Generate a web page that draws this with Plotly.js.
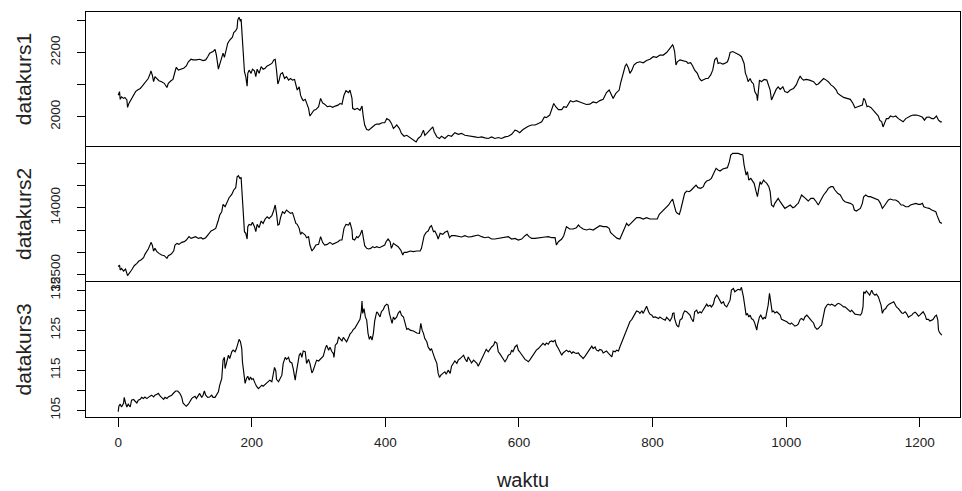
<!DOCTYPE html>
<html>
<head>
<meta charset="utf-8">
<script src="https://cdn.plot.ly/plotly-2.35.2.min.js"></script>
<style>html,body{margin:0;padding:0;background:#fff}#chart{width:962px;height:491px}</style>
</head>
<body>
<div id="chart"></div>
<script>
// datakurs1 (time index, value)
const waktu1 = [0,2,3,5,8,10,13,14,16,19,21,24,26,29,33,36,39,43,45,48,49,51,53,55,58,61,65,69,73,75,79,82,85,87,90,94,98,102,105,109,112,117,122,127,131,134,137,142,145,147,150,151,154,157,159,161,164,167,171,173,176,178,179,181,183,184,186,187,189,191,193,194,196,199,201,204,206,208,211,214,217,220,223,226,230,233,235,237,239,241,243,246,249,252,255,258,261,264,266,268,271,273,275,277,280,282,285,287,290,293,296,300,303,306,309,313,317,321,325,329,332,335,338,341,345,347,350,351,354,358,362,365,367,369,372,375,378,381,384,387,391,395,399,
402,406,409,412,417,421,424,428,432,437,442,446,449,453,457,459,462,467,471,473,477,481,484,489,494,499,504,509,514,519,524,529,534,539,544,549,554,559,564,569,574,579,584,589,594,597,601,606,611,614,619,624,629,634,638,641,646,650,652,655,659,664,667,671,674,677,681,686,691,696,701,706,711,716,721,726,731,735,739,741,745,750,752,755,759,761,764,766,769,772,776,781,786,791,796,801,806,811,816,821,826,830,
831,833,835,837,841,846,851,853,857,860,863,867,870,873,876,880,883,887,890,893,896,898,901,905,908,912,914,916,920,925,930,933,937,939,941,943,946,948,951,953,956,957,958,960,963,967,971,973,976,978,981,985,988,991,995,998,1002,1006,1011,1015,1018,1021,1023,1026,1030,1035,1041,1045,1048,1052,1056,1060,1063,1067,1071,1075,1077,1081,1086,1091,1096,1100,1103,1107,1111,1114,1116,1118,1121,1123,1127,1130,1134,1138,1140,1143,1145,1148,1150,1153,1156,1160,1164,1168,1171,1175,1179,1183,1186,1190,1195,1200,1204,1207,1210,1214,1218,1221,1225,1228,1231,1233];
const datakurs1 = [2067,2078,2054,2062,2057,2060,2052,2029,2041,2052,2060,2067,2078,2083,2088,2095,2102,2112,2119,2135,2143,2130,2109,2125,2119,2112,2109,2104,2091,2104,2112,2116,2140,2154,2145,2148,2151,2158,2171,2179,2177,2177,2179,2175,2177,2187,2198,2203,2210,2192,2148,2156,2177,2198,2185,2200,2229,2239,2248,2262,2268,2276,2302,2310,2297,2304,2234,2177,2140,2125,2095,2135,2145,2135,2148,2143,2125,2148,2135,2156,2148,2151,2158,2161,2166,2177,2179,2145,2102,2114,2133,2137,2119,2125,2114,2119,2114,2116,2102,2083,2093,2067,2057,2050,2054,2043,2026,2002,2012,2020,2022,2031,2057,2043,2039,2031,2033,2029,2033,2036,2041,2039,2067,2081,2075,2083,2057,2026,2022,2026,2020,2033,1999,1974,1960,1958,1963,1970,1974,1977,1977,1981,1981,
1994,1989,1979,1963,1974,1963,1948,1939,1942,1935,1927,1921,1932,1939,1958,1942,1948,1960,1968,1953,1937,1932,1939,1932,1942,1939,1950,1945,1948,1942,1941,1939,1937,1935,1937,1934,1932,1937,1932,1935,1932,1937,1939,1945,1958,1956,1950,1960,1968,1970,1974,1974,1979,1984,1999,1997,2005,2031,2041,2031,2022,2022,2031,2029,2041,2050,2046,2050,2046,2041,2038,2039,2046,2043,2050,2054,2075,2083,2062,2057,2073,2083,2104,2130,2158,2164,2151,2135,2145,2161,2168,2171,2168,2175,2179,2187,2185,2192,2192,2200,2213,2224,
2220,2203,2161,2171,2177,2175,2171,2166,2168,2158,2145,2135,2119,2112,2116,2119,2119,2130,2145,2177,2184,2166,2168,2164,2166,2171,2182,2200,2203,2198,2192,2187,2166,2135,2125,2109,2119,2109,2102,2078,2067,2050,2083,2114,2109,2116,2114,2104,2083,2052,2067,2085,2093,2085,2093,2078,2075,2083,2088,2099,2114,2127,2119,2114,2116,2114,2109,2099,2102,2109,2119,2114,2109,2099,2093,2083,2073,2067,2060,2057,2054,2041,2028,2031,2033,2036,2057,2052,2031,2033,2028,2020,2010,2002,1989,1984,1968,1981,1994,1994,2002,1999,2002,1994,1989,1984,1994,1999,2002,2005,2005,2002,1998,1989,1998,1999,1994,1994,2002,1989,1984,1984];

// datakurs2
const waktu2 = [0,2,3,5,8,11,14,16,19,21,24,28,31,34,38,40,43,45,48,49,51,53,55,58,61,65,69,73,75,79,83,85,88,91,95,99,102,106,109,112,116,120,124,127,131,135,139,142,146,150,152,155,157,160,162,166,170,173,176,178,180,182,184,186,187,189,191,193,194,196,199,201,204,206,208,211,214,217,220,223,226,230,233,235,237,239,241,243,246,249,252,255,258,261,264,266,268,271,273,275,277,280,282,285,287,290,293,296,300,303,306,309,313,317,321,325,329,332,335,338,341,345,347,350,351,354,357,359,362,365,367,369,372,375,378,381,384,387,391,395,399,
401,404,407,409,412,416,419,423,426,428,432,437,442,447,452,454,456,458,461,464,467,469,472,474,477,479,482,486,489,493,496,499,504,509,514,519,524,529,534,539,544,549,554,559,564,569,574,579,584,589,594,599,604,609,612,615,619,624,629,634,639,644,649,654,656,659,664,667,669,671,676,681,686,689,691,696,701,706,711,716,721,726,731,735,737,740,744,747,751,754,756,759,761,764,766,769,771,774,776,781,786,791,796,801,807,810,814,817,820,824,827,830,
832,835,837,840,842,845,848,851,855,858,862,865,868,872,876,878,881,885,888,892,895,898,901,905,908,912,915,917,920,923,928,932,935,937,940,942,944,947,950,952,955,957,959,961,963,966,968,971,974,976,978,981,983,986,988,991,995,998,1002,1006,1010,1013,1016,1018,1021,1023,1026,1030,1033,1037,1041,1045,1048,1052,1056,1060,1063,1067,1070,1073,1077,1081,1085,1088,1092,1096,1100,1102,1105,1108,1111,1114,1116,1119,1123,1126,1130,1134,1138,1141,1144,1146,1149,1153,1156,1160,1164,1168,1172,1175,1179,1183,1186,1190,1194,1198,1201,1204,1206,1210,1214,1218,1221,1224,1226,1228,1230,1233];
const datakurs2 = [12680,12717,12605,12643,12583,12628,12478,12531,12583,12628,12702,12755,12807,12829,12882,12956,13016,13076,13180,13225,13165,13031,13090,13016,12978,12941,12926,12867,12926,12956,13031,13165,13202,13180,13225,13240,13277,13352,13314,13329,13352,13314,13329,13299,13329,13404,13479,13501,13538,13725,13837,13911,14076,14023,14098,14225,14299,14397,14449,14695,14717,14658,14673,14210,13762,13464,13426,13299,13576,13628,13613,13673,13576,13464,13628,13553,13702,13650,13747,13799,13762,13822,13949,14061,13874,13613,13628,13777,13911,13874,13949,13911,13874,13889,13762,13650,13628,13538,13404,13449,13426,13389,13329,13352,13165,13031,13090,13165,13180,13352,13225,13165,13180,13225,13180,13202,13240,13277,13277,13538,13628,13613,13673,13501,13299,13277,13352,13329,13389,13501,13277,13150,13090,13076,13090,13128,13105,13128,13105,13128,13165,
13240,13299,13240,13090,13202,13165,13128,13053,12941,13001,13001,13031,13016,13031,13031,13090,13240,13374,13449,13479,13576,13598,13464,13479,13389,13299,13426,13404,13449,13479,13329,13374,13374,13352,13344,13374,13344,13352,13374,13389,13352,13329,13344,13299,13299,13314,13329,13344,13352,13299,13314,13277,13299,13374,13404,13352,13314,13314,13329,13329,13344,13352,13329,13329,13165,13240,13299,13374,13479,13576,13523,13523,13553,13613,13576,13523,13501,13523,13501,13553,13598,13576,13576,13538,13449,13404,13352,13314,13299,13389,13479,13576,13650,13598,13628,13673,13702,13747,13777,13777,13747,13777,13747,13747,13747,13852,13911,13949,14001,14061,14135,14195,
14076,13911,13874,13852,13949,14135,14322,14374,14359,14397,14449,14508,14449,14434,14471,14546,14598,14620,14658,14770,14882,14844,14822,14867,14882,14897,15031,15180,15217,15217,15217,15195,15180,14956,14732,14807,14620,14658,14583,14546,14359,14247,14434,14583,14523,14620,14583,14546,14471,14359,14061,14023,14098,14173,14210,14135,14061,13986,14023,14061,14001,14023,14076,14098,14210,14285,14247,14195,14150,14210,14210,14135,14061,14173,14285,14359,14434,14471,14471,14397,14322,14285,14173,14135,14120,14098,14061,13949,13926,13949,13986,14098,14247,14285,14247,14247,14225,14210,14173,14098,13986,14023,14098,14173,14195,14173,14173,14135,14061,14061,14023,14023,14061,14076,14098,14076,14076,14098,14023,14001,13986,13949,13926,13911,13822,13725,13673,13650];

// datakurs3
const waktu3 = [0,1,3,5,8,9,11,13,15,18,20,23,25,28,30,33,35,38,40,43,45,48,50,53,55,58,60,63,65,68,70,73,75,78,80,83,86,89,92,95,97,100,102,105,107,110,112,115,117,120,122,125,127,129,131,134,137,140,142,145,147,150,152,155,157,159,160,162,165,167,170,172,175,177,179,181,183,185,186,188,190,192,194,196,198,200,202,205,207,210,212,215,217,220,222,225,227,230,232,234,236,237,240,242,245,247,250,252,255,257,260,262,265,266,269,271,273,275,277,280,282,285,287,290,292,295,297,300,302,305,307,310,312,315,317,320,322,323,325,328,330,332,335,337,340,342,345,347,350,352,354,357,359,362,364,365,366,368,370,372,374,376,378,380,382,384,387,389,392,394,397,399,
402,404,406,408,410,412,414,417,419,422,424,427,429,432,434,437,442,447,451,453,455,457,459,462,464,467,469,472,474,477,479,481,483,486,489,491,494,497,499,502,504,507,509,512,514,517,519,522,524,527,529,532,534,537,539,541,544,547,549,551,554,557,559,562,564,567,569,571,574,577,579,582,584,587,589,591,594,597,599,601,604,606,609,611,614,616,619,621,624,626,629,631,634,636,639,641,644,646,649,651,654,656,659,661,664,666,669,671,674,676,679,681,684,686,689,691,694,696,699,701,704,706,709,711,714,716,719,721,724,726,729,731,734,736,739,741,744,746,749,751,754,756,759,761,764,766,769,771,774,776,779,781,784,786,789,791,794,796,799,801,804,806,809,811,814,816,819,821,824,826,829,
830,832,833,836,839,841,844,846,848,851,853,856,858,861,863,866,868,871,873,876,878,881,883,886,888,891,893,896,898,901,903,906,908,911,913,916,918,921,923,926,928,931,933,936,938,940,942,944,946,948,951,953,956,957,960,962,965,967,969,971,973,975,977,979,981,983,986,988,991,993,996,998,1001,1003,1006,1008,1011,1013,1016,1018,1021,1023,1026,1028,1031,1033,1036,1038,1041,1043,1046,1048,1051,1053,1056,1058,1061,1063,1066,1068,1071,1073,1076,1078,1081,1083,1086,1088,1091,1093,1096,1098,1101,1103,1106,1108,1111,1113,1115,1116,1118,1120,1123,1125,1128,1130,1133,1135,1138,1140,1142,1144,1146,1149,1151,1154,1156,1159,1161,1163,1165,1168,1170,1173,1175,1178,1180,1183,1185,1188,1190,1193,1195,1198,1200,1203,1205,1208,1210,1213,1215,1218,1220,1223,1225,1227,1228,1230,1233];
const datakurs3 = [104.6,106.0,106.5,105.8,106.7,108.2,106.8,105.8,106.5,105.8,107.5,107.7,107.3,106.8,107.5,107.7,108.2,107.9,108.3,107.9,108.2,108.5,108.75,108.3,108.75,109.0,109.2,108.5,108.2,107.7,108.2,107.9,108.3,108.5,108.75,109.3,109.8,109.8,109.3,108.3,106.8,106.25,106.0,106.5,107.1,107.9,108.2,108.5,107.9,108.75,109.2,108.2,108.75,109.8,108.75,108.2,108.3,108.75,108.2,108.2,108.75,109.6,111.25,112.9,117.5,118.2,115.4,116.7,118.75,117.9,119.6,120.0,119.6,120.4,121.7,122.7,122.1,120.4,117.1,113.75,111.7,112.9,113.5,112.5,113.3,112.7,112.9,111.7,111.0,110.4,110.8,111.25,111.0,111.5,111.7,112.1,112.5,112.1,113.75,115.7,114.8,112.7,112.1,112.9,113.75,116.7,118.2,117.7,118.2,117.1,116.8,115.4,112.5,113.75,117.1,118.75,119.3,118.2,119.8,119.6,116.7,117.7,116.7,114.3,115.0,116.25,117.5,117.3,117.7,118.3,118.5,120.4,121.25,120.0,120.7,119.6,119.2,118.2,121.25,121.8,123.3,122.9,122.3,123.2,122.7,122.1,123.2,124.0,124.6,125.2,125.4,126.25,126.8,127.7,129.8,132.3,129.2,130.4,128.3,127.5,124.2,122.7,123.5,122.5,124.2,127.3,129.6,129.2,128.3,129.6,130.2,131.0,
131.5,131.25,129.2,127.9,126.7,128.3,127.7,128.3,129.2,129.8,128.75,128.3,126.7,125.2,125.4,125.0,124.8,124.3,124.2,126.7,125.0,124.2,122.9,122.1,120.8,120.0,120.4,118.75,117.9,116.7,114.2,113.2,113.75,114.2,114.6,114.0,115.0,114.2,116.0,116.8,117.3,116.7,117.5,117.9,118.2,118.75,117.9,117.1,118.3,117.3,116.8,117.5,117.1,116.7,116.0,116.7,117.5,118.5,119.6,120.2,119.6,120.4,120.8,121.25,122.1,121.7,119.6,119.2,118.3,117.5,117.1,117.9,118.75,119.0,120.0,119.6,120.8,121.25,120.0,119.6,118.75,118.2,117.7,117.5,117.1,117.5,118.2,118.75,119.6,120.0,120.4,120.8,121.25,121.7,121.25,121.8,121.5,122.1,122.3,122.1,122.5,121.25,120.4,119.6,118.75,119.3,119.6,120.0,119.6,119.8,119.2,119.6,119.3,119.2,119.3,118.75,118.3,117.9,118.5,119.0,119.6,120.4,121.0,120.4,120.8,120.0,119.8,120.2,120.0,119.3,119.6,119.8,119.2,118.75,118.3,119.8,119.6,120.0,119.8,120.8,122.1,122.7,124.2,125.0,126.5,127.1,127.7,128.2,129.2,129.8,129.6,129.2,129.8,129.2,130.2,131.0,129.6,129.0,128.75,128.2,128.3,128.2,127.9,128.3,127.9,127.7,127.5,128.2,127.7,127.3,128.2,
129.2,129.3,127.9,126.25,125.8,127.5,127.9,129.2,129.8,129.6,129.2,128.75,127.9,127.1,129.6,130.0,129.2,129.6,129.3,130.2,130.8,131.5,131.0,131.25,130.8,131.5,132.9,133.75,133.3,132.5,131.7,132.1,131.25,130.8,131.5,132.5,135.0,135.4,134.6,135.0,135.2,135.0,135.7,133.3,130.8,128.75,129.2,128.3,128.75,127.9,127.5,126.7,125.0,126.25,128.3,128.75,127.7,128.2,127.9,129.6,131.25,134.2,131.7,129.6,129.8,129.3,129.6,129.2,128.75,127.7,127.5,127.3,127.1,126.8,126.5,126.8,126.25,126.0,126.25,126.5,127.7,127.9,127.5,128.3,128.75,128.3,127.5,127.3,126.8,125.8,125.2,125.4,126.0,126.25,128.75,130.4,131.25,131.5,131.25,131.5,131.25,131.0,131.5,131.7,131.5,131.25,130.8,130.8,130.4,130.2,129.6,130.0,129.2,129.0,128.9,128.8,128.75,129.2,130.8,134.6,134.2,134.8,134.3,133.75,135.0,134.2,133.75,134.0,133.3,132.5,131.25,129.2,130.0,130.4,131.0,131.5,131.7,131.8,132.1,131.5,130.8,130.4,130.0,129.3,129.2,129.6,129.2,128.2,128.5,128.75,129.2,129.5,129.2,128.5,128.75,129.2,129.6,128.75,127.7,127.7,127.3,127.5,127.7,128.5,128.75,127.5,125.0,124.3,123.75];

const xTicks = [0,200,400,600,800,1000,1200];
const y1Ticks = [2000,2100,2200,2300];
const y1Text = ['2000','','2200',''];
const y2Ticks = [12500,13000,13500,14000,14500,15000];
const y2Text = ['12500','','','14000','',''];
const y3Ticks = [105,110,115,120,125,130,135];
const y3Text = ['105','','115','','125','','135'];

const FONT = 'Liberation Sans, Arial, sans-serif';
const lineStyle = {color:'#000', width:1.15};
const traces = [
  {x: waktu1, y: datakurs1, xaxis:'x', yaxis:'y', type:'scatter', mode:'lines', line: lineStyle},
  {x: waktu2, y: datakurs2, xaxis:'x2', yaxis:'y2', type:'scatter', mode:'lines', line: lineStyle},
  {x: waktu3, y: datakurs3, xaxis:'x3', yaxis:'y3', type:'scatter', mode:'lines', line: lineStyle}
];
const xr = [-48.2, 1260.2];
const baseX = {range: xr, showline:true, mirror:true, linecolor:'#000', linewidth:1, showgrid:false, zeroline:false, ticks:'', showticklabels:false, fixedrange:true};
const baseY = {showline:true, mirror:true, linecolor:'#000', linewidth:1, showgrid:false, zeroline:false,
  ticks:'outside', ticklen:8, tickcolor:'#000', tickwidth:1, tickangle:-90, ticklabelstandoff:12,
  tickfont:{family:FONT, size:13.5, color:'#222'}, tickmode:'array'};
const yTitle = (t) => ({text:t, font:{family:FONT, size:21, color:'#222'}, standoff:10});

const layout = {
  width:962, height:491, showlegend:false, paper_bgcolor:'#fff', plot_bgcolor:'#fff',
  margin:{l:86, r:2, t:12, b:74},
  xaxis: Object.assign({}, baseX, {anchor:'y'}),
  xaxis2: Object.assign({}, baseX, {anchor:'y2', showline:false}),
  xaxis3: Object.assign({}, baseX, {anchor:'y3', ticks:'outside', ticklen:9, tickcolor:'#000', showticklabels:true,
    tickmode:'array', tickvals:xTicks, ticktext:xTicks.map(String), ticklabelstandoff:4,
    tickfont:{family:FONT, size:13.5, color:'#222'},
    title:{text:'waktu', font:{family:FONT, size:20, color:'#222'}, standoff:23}}),
  yaxis: Object.assign({}, baseY, {anchor:'x', domain:[0.669,1], range:[1908.4,2326.3], tickvals:y1Ticks, ticktext:y1Text, title:yTitle('datakurs1')}),
  yaxis2: Object.assign({}, baseY, {anchor:'x2', domain:[0.334,0.669], range:[12343,15381], tickvals:y2Ticks, ticktext:y2Text, title:yTitle('datakurs2')}),
  yaxis3: Object.assign({}, baseY, {anchor:'x3', domain:[0,0.334], range:[103.3,137.1], tickvals:y3Ticks, ticktext:y3Text, title:yTitle('datakurs3')})
};
Plotly.newPlot('chart', traces, layout, {staticPlot:true, displayModeBar:false});
</script>
</body>
</html>
